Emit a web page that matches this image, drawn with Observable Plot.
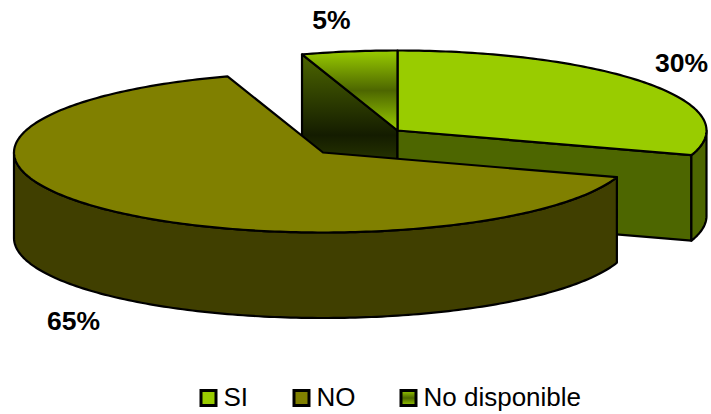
<!DOCTYPE html>
<html>
<head>
<meta charset="utf-8">
<script src="https://cdn.jsdelivr.net/npm/d3@7"></script>
<script src="https://cdn.jsdelivr.net/npm/@observablehq/plot@0.6"></script>
<style>
  html, body { margin: 0; padding: 0; background: #fff; }
  svg { display: block; }
</style>
</head>
<body>
<script>
// Chart values
const categories = ["SI", "NO", "No disponible"];
const shares = [30, 65, 5];
const shareLabels = ["30%", "65%", "5%"];

// Slice colours: top face and side wall
const topColors = ["#99cc00", "#808000", "url(#ndTop)"];
const wallColors = ["#4d6600", "#403f00", "url(#ndWall)"];

// Pie geometry in page pixels
const width = 711, height = 414;
const rx = 309, ry = 80, depth = 85.5;
const centres = [[397, 130], [322.5, 152], [397, 130]]; // the NO slice is pulled out
const labelAnchors = [[681, 71], [73, 329.5], [331, 28.5]];
const legendBoxes = [201, 294, 401];
const legendTop = 390.5, legendBottom = 405.5;
const fontFamily = "'Liberation Sans', Arial, sans-serif";

// Cumulative slice angles, clockwise from twelve o'clock
const total = d3.sum(shares);
const ends = d3.cumsum(shares).map((v) => (v / total) * 360);
const starts = [0, ...ends.slice(0, -1)];
const rad = (deg) => (deg * Math.PI) / 180;
const rim = (i, deg, drop = 0) => ({
  x: centres[i][0] + rx * Math.sin(rad(deg)),
  y: centres[i][1] - ry * Math.cos(rad(deg)) + drop
});
const sweep = (i, from, to, drop = 0) =>
  d3.range(0, 1.0001, 1 / Math.max(1, Math.ceil(Math.abs(to - from)))).map((t) => rim(i, from + (to - from) * t, drop));
const apex = (i, drop = 0) => ({x: centres[i][0], y: centres[i][1] + drop});

// Faces of each slice
const topFace = (i) => [apex(i), ...sweep(i, starts[i], ends[i])];
const radialWall = (i, deg) => [apex(i), rim(i, deg), rim(i, deg, depth), apex(i, depth)];
const outerWall = (i, from, to) => [...sweep(i, from, to), ...sweep(i, to, from, depth)];

const face = (points, fill) =>
  Plot.line(points, {
    x: "x", y: "y",
    curve: "linear-closed",
    fill,
    stroke: "#000",
    strokeWidth: 2.2,
    strokeLinejoin: "round"
  });

const gradient = (id, stops) => {
  const g = d3.create("svg:linearGradient").attr("id", id).attr("x1", 0).attr("x2", 0).attr("y1", 0).attr("y2", 1);
  stops.forEach(([offset, color]) => g.append("stop").attr("offset", offset).attr("stop-color", color));
  return g.node();
};

const plot = Plot.plot({
  width, height,
  margin: 0,
  x: {domain: [0, width], range: [0, width], axis: null},
  y: {domain: [0, height], range: [0, height], axis: null},
  style: {background: "#fff", fontFamily},
  marks: [
    () => {
      const defs = d3.create("svg:defs");
      defs.append(() => gradient("ndTop", [[0, "#99cc00"], [0.5, "#4d6600"], [1, "#99cc00"]]));
      defs.append(() => gradient("ndWall", [[0, "#4d6600"], [0.5, "#141c00"], [1, "#4d6600"]]));
      return defs.node();
    },

    // No disponible wall, behind everything else
    face(radialWall(2, starts[2]), wallColors[2]),

    // SI: cut wall, rounded wall, top
    face(radialWall(0, ends[0]), wallColors[0]),
    face(outerWall(0, 90, ends[0]), wallColors[0]),
    face(topFace(0), topColors[0]),

    // No disponible top
    face(topFace(2), topColors[2]),

    // NO: rounded wall and top, in front
    face(outerWall(1, starts[1], 270), wallColors[1]),
    face(topFace(1), topColors[1]),

    // Percentage labels
    Plot.text(shareLabels, {
      x: (d, i) => labelAnchors[i][0],
      y: (d, i) => labelAnchors[i][1],
      text: (d) => d,
      lineAnchor: "bottom",
      fontSize: 26.5,
      fontWeight: "bold",
      fill: "#000"
    }),

    // Legend
    Plot.rect(categories, {
      x1: (d, i) => legendBoxes[i],
      x2: (d, i) => legendBoxes[i] + 15,
      y1: legendTop,
      y2: legendBottom,
      fill: (d, i) => topColors[i],
      stroke: "#000",
      strokeWidth: 3
    }),
    Plot.text(categories, {
      x: (d, i) => legendBoxes[i] + 22,
      y: legendBottom - 0.5,
      text: (d) => d,
      textAnchor: "start",
      lineAnchor: "bottom",
      fontSize: 26,
      fill: "#000"
    })
  ]
});

document.body.append(plot);
</script>
</body>
</html>
